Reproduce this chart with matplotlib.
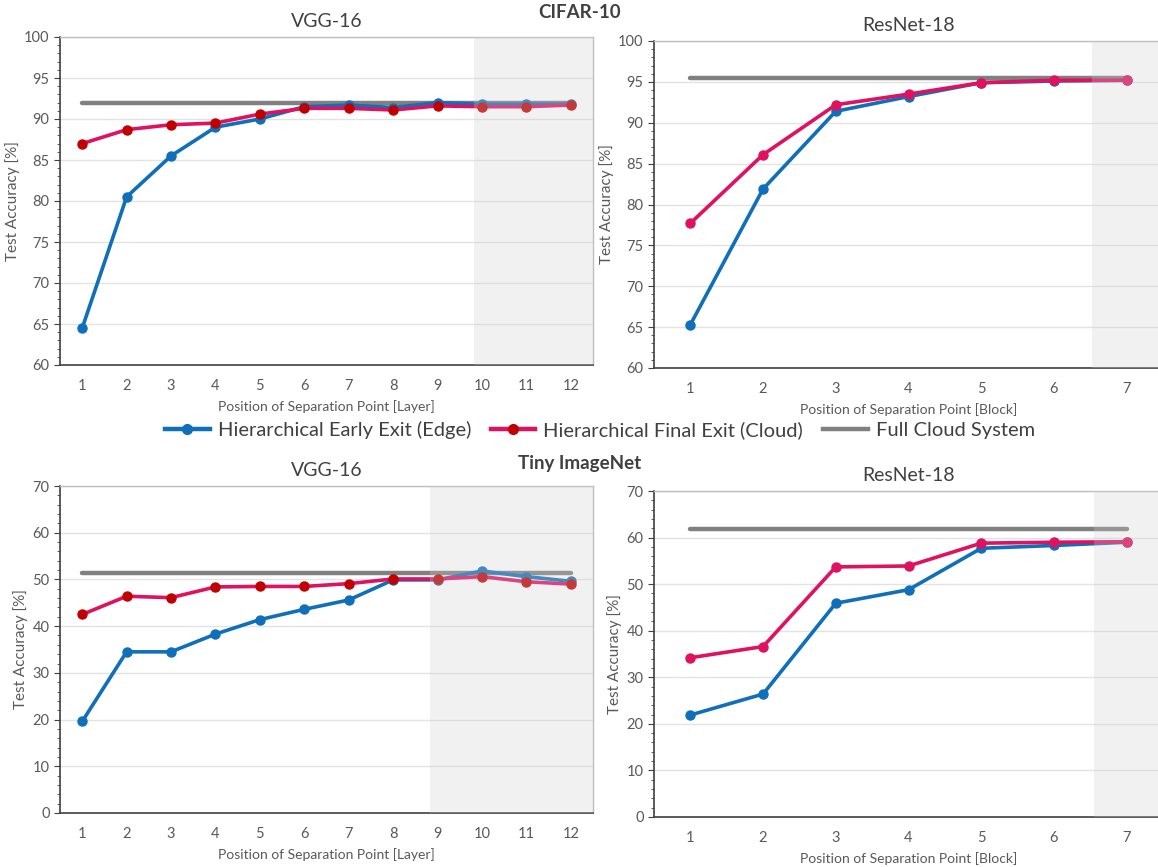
import matplotlib
matplotlib.use("Agg")
import matplotlib.pyplot as plt
from matplotlib.ticker import MultipleLocator
from matplotlib.lines import Line2D

plt.rcParams['font.family'] = ['Lato', 'DejaVu Sans']

# CIFAR-10, VGG-16
vgg_c10_x = list(range(1, 13))
vgg_c10_edge = [64.5, 80.5, 85.5, 89.0, 90.0, 91.5, 91.7, 91.4, 92.0, 91.8, 91.8, 91.8]
vgg_c10_cloud = [87.0, 88.7, 89.3, 89.5, 90.6, 91.3, 91.3, 91.1, 91.6, 91.5, 91.5, 91.7]
vgg_c10_full = 91.9

# CIFAR-10, ResNet-18
res_c10_x = list(range(1, 8))
res_c10_edge = [65.3, 81.9, 91.4, 93.2, 94.9, 95.1, 95.2]
res_c10_cloud = [77.7, 86.1, 92.2, 93.5, 94.9, 95.2, 95.2]
res_c10_full = 95.5

# Tiny ImageNet, VGG-16
vgg_tin_x = list(range(1, 13))
vgg_tin_edge = [19.6, 34.5, 34.5, 38.3, 41.4, 43.6, 45.6, 49.9, 49.9, 51.8, 50.6, 49.6]
vgg_tin_cloud = [42.5, 46.4, 46.1, 48.4, 48.5, 48.5, 49.1, 50.1, 50.1, 50.6, 49.5, 49.0]
vgg_tin_full = 51.3

# Tiny ImageNet, ResNet-18
res_tin_x = list(range(1, 8))
res_tin_edge = [21.9, 26.4, 45.9, 48.8, 57.7, 58.3, 59.0]
res_tin_cloud = [34.2, 36.6, 53.7, 53.9, 58.8, 59.0, 59.1]
res_tin_full = 61.8

blue = '#0f6fba'
pink = '#e0115f'
dark_red = '#c00000'
grey_line = '#808080'
txt = '#595959'

fig = plt.figure(figsize=(11.58, 8.67), dpi=100)
W, H = 1158, 867


def box(l, t, r, b):
    return [l / W, 1 - b / H, (r - l) / W, (b - t) / H]


def panel(rect, x, edge, cloud, full, ylim, major, minor, shade_from, title, xlabel, cloud_marker):
    ax = fig.add_axes(rect)
    ax.plot([x[0], x[-1]], [full, full], color=grey_line, lw=3.2, solid_capstyle='round', zorder=2)
    ax.plot(x, edge, color=blue, lw=2.6, marker='o', ms=6.5, zorder=3)
    ax.plot(x, cloud, color=pink, lw=2.6, marker='o', ms=6.5,
            markerfacecolor=cloud_marker, markeredgecolor=cloud_marker, zorder=4)
    ax.axvspan(shade_from, x[-1] + 0.5, color='#cfcfcf', alpha=0.28, lw=0, zorder=5)
    ax.set_xlim(0.5, x[-1] + 0.5)
    ax.set_ylim(*ylim)
    ax.set_xticks(x)
    ax.yaxis.set_major_locator(MultipleLocator(major))
    ax.yaxis.set_minor_locator(MultipleLocator(minor))
    ax.grid(axis='y', which='major', color='#e3e3e3', lw=1, zorder=0)
    ax.set_axisbelow(True)
    ax.tick_params(axis='x', length=0, pad=10, labelsize=10.5, labelcolor=txt)
    ax.tick_params(axis='y', which='major', length=4, direction='out', color='#404040',
                   labelsize=10.5, labelcolor=txt)
    ax.tick_params(axis='y', which='minor', length=2.5, direction='out', color='#404040')
    for s in ['left', 'bottom']:
        ax.spines[s].set_color('#404040')
        ax.spines[s].set_linewidth(1.2)
    for s in ['top', 'right']:
        ax.spines[s].set_color('#bfbfbf')
        ax.spines[s].set_linewidth(1.0)
    ax.set_title(title, fontsize=14, color='#404040', pad=7)
    ax.set_xlabel(xlabel, fontsize=10, color=txt, labelpad=5)
    ax.set_ylabel('Test Accuracy [%]', fontsize=11, color=txt, labelpad=3)
    return ax


panel(box(60, 37, 593, 365), vgg_c10_x, vgg_c10_edge, vgg_c10_cloud, vgg_c10_full,
      (60, 100), 5, 1, 9.83, 'VGG-16', 'Position of Separation Point [Layer]', dark_red)
panel(box(654, 41, 1163, 368), res_c10_x, res_c10_edge, res_c10_cloud, res_c10_full,
      (60, 100), 5, 1, 6.53, 'ResNet-18', 'Position of Separation Point [Block]', pink)
panel(box(60, 486, 593, 813), vgg_tin_x, vgg_tin_edge, vgg_tin_cloud, vgg_tin_full,
      (0, 70), 10, 2, 8.83, 'VGG-16', 'Position of Separation Point [Layer]', dark_red)
panel(box(654, 491, 1163, 817), res_tin_x, res_tin_edge, res_tin_cloud, res_tin_full,
      (0, 70), 10, 2, 6.55, 'ResNet-18', 'Position of Separation Point [Block]', pink)

fig.text(580 / W, 1 - 12 / H, 'CIFAR-10', ha='center', va='center', fontsize=13.5,
         fontweight='bold', color='#404040')
fig.text(580 / W, 1 - 463 / H, 'Tiny ImageNet', ha='center', va='center', fontsize=13.5,
         fontweight='bold', color='#404040')

handles = [
    Line2D([], [], color=blue, lw=3.2, marker='o', ms=7),
    Line2D([], [], color=pink, lw=3.2, marker='o', ms=7, markerfacecolor=dark_red,
           markeredgecolor=dark_red),
    Line2D([], [], color=grey_line, lw=3.2),
]
labels = ['Hierarchical Early Exit (Edge)', 'Hierarchical Final Exit (Cloud)', 'Full Cloud System']
leg = fig.legend(handles, labels, loc='center', bbox_to_anchor=(600 / W, 1 - 430 / H), ncol=3,
                 frameon=False, fontsize=14.5, handlelength=2.2, handletextpad=0.4, columnspacing=1.0)
for t in leg.get_texts():
    t.set_color('#404040')

fig.savefig('out.png', dpi=100)
